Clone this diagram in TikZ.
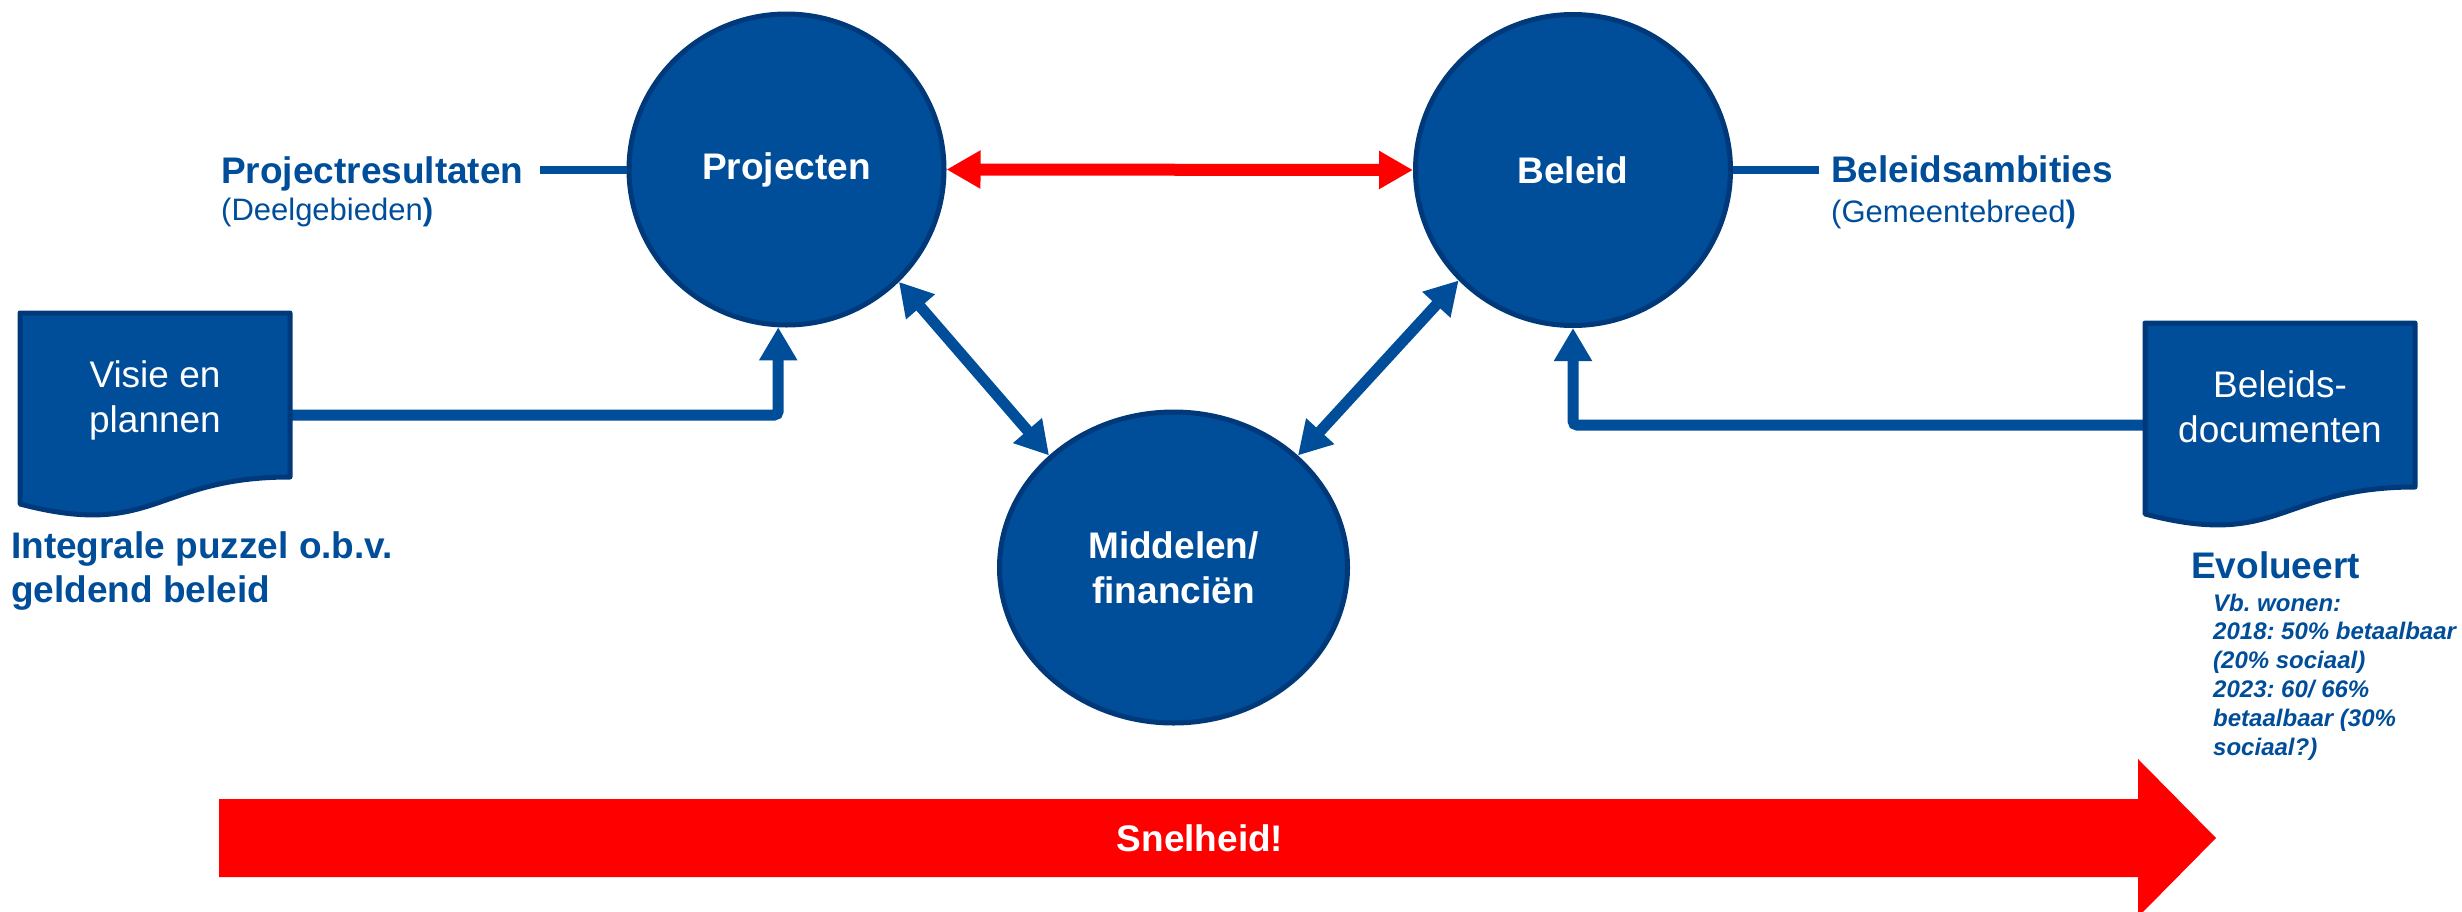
\documentclass[tikz,border=0pt]{standalone}
\usepackage{fontspec}
\setmainfont{Liberation Sans}
\usetikzlibrary{arrows.meta,shapes.geometric}
\definecolor{navy}{HTML}{004D99}
\definecolor{navyedge}{HTML}{00397A}
\definecolor{signal}{HTML}{FF0000}
\frenchspacing

\begin{document}
\begin{tikzpicture}[x=1pt,y=-1pt,
  hub/.style={ellipse, fill=navy, draw=navyedge, line width=5pt, inner sep=0pt,
    text=white, font=\fontsize{37}{45}\selectfont\bfseries, align=center},
  sheet/.style={fill=navy, draw=navyedge, line width=5pt, line join=round},
  sheettext/.style={text=white, font=\fontsize{37}{45}\selectfont, align=center,
    inner sep=0pt, anchor=base},
  flow/.style={draw=navy, line width=11pt, rounded corners=4pt,
    -{Triangle[width=36pt,length=33pt]}},
  duplex/.style={draw=navy, line width=11pt,
    {Triangle[width=36pt,length=33pt]}-{Triangle[width=36pt,length=33pt]}},
  rival/.style={draw=signal, line width=12pt,
    {Triangle[width=36pt,length=34pt]}-{Triangle[width=36pt,length=34pt]}},
  tie/.style={draw=navy, line width=8pt},
  head/.style={text=navy, font=\fontsize{37}{44}\selectfont\bfseries,
    inner sep=0pt, anchor=base west, align=left},
  sub/.style={text=navy, font=\fontsize{31}{37}\selectfont,
    inner sep=0pt, anchor=base west},
  note/.style={text=navy, font=\fontsize{24}{28.8}\selectfont\bfseries\itshape,
    inner sep=0pt, anchor=base west, align=left},
  docsheet/.pic={
    \draw[sheet] (0,0) -- (270,0) -- (270,164)
      .. controls (135,164) and (135,226.5) .. (0,191) -- cycle;
  },
]
\useasboundingbox (0,0) rectangle (2462,911);

% speed arrow along the bottom
\fill[signal] (219,799) -- (2138,799) -- (2138,759) -- (2216,838)
  -- (2138,917) -- (2138,877) -- (219,877) -- cycle;
\node[text=white, font=\fontsize{37}{44}\selectfont\bfseries] (speed) at (1200,838) {Snelheid!};

% the three hubs
\node[hub, minimum width=315pt, minimum height=311pt] (P) at (786.5,169.5) {Projecten};
\node[hub, minimum width=315pt, minimum height=311pt] (B) at (1573,170) {Beleid};
\node[hub, minimum width=348pt, minimum height=311pt] (M) at (1173.5,567.5) {Middelen/\\financiën};

% links between the hubs
\draw[rival] (P.east) -- (B.west);
\draw[duplex] (P.-45) -- (M.138);
\draw[duplex] (B.224) -- (M.42);

% side labels
\node[head] (PR) at (221,183) {Projectresultaten};
\node[sub] (PRs) at (221,220) {(Deelgebieden\textbf{)}};
\coordinate (PR-e) at (540,169.5);
\draw[tie] (PR-e) -- (P.west);

\node[head] (BA) at (1831,182) {Beleidsambities};
\node[sub] (BAs) at (1831,222) {(Gemeentebreed\textbf{)}};
\coordinate (BA-w) at (1819,170);
\draw[tie] (B.east) -- (BA-w);

% input documents
\coordinate (V-e) at (290,415);
\draw[flow] (V-e) -| (P.-93);
\coordinate (D-w) at (2145,425);
\draw[flow] (D-w) -| (B.-90);

% (multi-line nodes: the base anchor sits on the last line)
\pic at (20,313) {docsheet};
\node[sheettext] (V) at (155,432) {Visie en\\plannen};
\pic at (2145,323) {docsheet};
\node[sheettext] (D) at (2280,442) {Beleids-\\documenten};

% captions below the documents
\node[head] (IP) at (11,602) {Integrale puzzel o.b.v.\\geldend beleid};
\node[head] (EV) at (2191,578) {Evolueert};
\node[note] (EX) at (2213,755) {Vb. wonen:\\2018: 50\% betaalbaar\\(20\% sociaal)\\2023: 60/ 66\%\\betaalbaar (30\%\\sociaal?)};
\end{tikzpicture}
\end{document}
